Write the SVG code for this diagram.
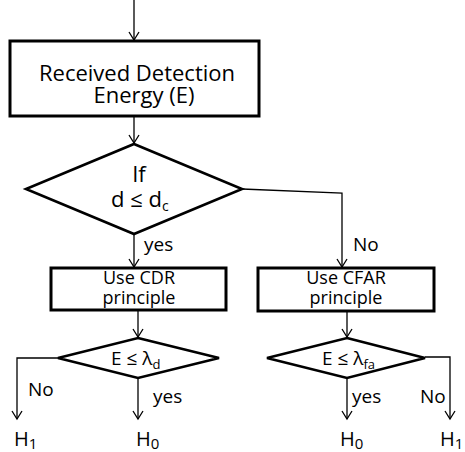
<svg xmlns="http://www.w3.org/2000/svg" width="465" height="452" viewBox="0 0 465 452">
<defs>
<style>
.box{fill:#fff;stroke:#000;stroke-width:3}
.dia{fill:#fff;stroke:#000;stroke-width:2.6;stroke-linejoin:miter}
.con{fill:none;stroke:#000;stroke-width:1.3}
text{font-family:"Open Sans","Noto Sans",sans-serif;fill:#000}
.big{font-size:22px}
.mid{font-size:18px}
.lbl{font-size:19px}
.h{font-size:20px}
</style>
<marker id="ah" markerWidth="12" markerHeight="12" viewBox="-10 -6 12 12" refX="0" refY="0" orient="auto" markerUnits="userSpaceOnUse">
<polyline points="-8,-5 0,0 -8,5" fill="none" stroke="#000" stroke-width="1.3"/>
</marker>
</defs>
<rect width="465" height="452" fill="#fff"/>
<g id="connectors">
<line class="con" x1="134" y1="0" x2="134" y2="40" marker-end="url(#ah)"/>
<line class="con" x1="134" y1="117" x2="134" y2="143" marker-end="url(#ah)"/>
<line class="con" x1="134" y1="234" x2="134" y2="267" marker-end="url(#ah)"/>
<polyline class="con" points="242,189 342,193 342,267" marker-end="url(#ah)"/>
<line class="con" x1="138" y1="311" x2="138" y2="337" marker-end="url(#ah)"/>
<line class="con" x1="347" y1="312" x2="347" y2="337" marker-end="url(#ah)"/>
<polyline class="con" points="58,358 17,358 17,419" marker-end="url(#ah)"/>
<line class="con" x1="138" y1="378" x2="138" y2="419" marker-end="url(#ah)"/>
<line class="con" x1="347" y1="378" x2="347" y2="419" marker-end="url(#ah)"/>
<polyline class="con" points="425,357 450,357 450,419" marker-end="url(#ah)"/>
<text class="lbl" x="144" y="251">yes</text>
<text class="lbl" x="353" y="251">No</text>
<text class="lbl" x="28" y="396">No</text>
<text class="lbl" x="153" y="403">yes</text>
<text class="lbl" x="352" y="403">yes</text>
<text class="lbl" x="420" y="403">No</text>
</g>
<g id="received">
<rect class="box" x="10" y="41" width="249" height="75"/>
<text class="big" x="137" y="81" text-anchor="middle">Received Detection</text>
<text class="big" x="144" y="103" text-anchor="middle">Energy (E)</text>
</g>
<g id="decision-d">
<polygon class="dia" points="134,144 242,189 134,234 26,189"/>
<text class="big" x="139" y="182" text-anchor="middle">If</text>
<text class="big" x="111" y="207">d ≤ d<tspan font-size="14" dy="4">c</tspan></text>
</g>
<g id="cdr">
<rect class="box" x="51" y="268" width="175" height="42"/>
<text class="mid" x="139" y="284" text-anchor="middle">Use CDR</text>
<text class="mid" x="139" y="304" text-anchor="middle">principle</text>
</g>
<g id="cfar">
<rect class="box" x="258" y="268" width="176" height="43"/>
<text class="mid" x="346" y="284" text-anchor="middle">Use CFAR</text>
<text class="mid" x="346" y="304" text-anchor="middle">principle</text>
</g>
<g id="decision-ld">
<polygon class="dia" points="138,338 219,358 138,378 58,358"/>
<text class="lbl" x="111" y="365">E ≤ λ<tspan font-size="13" dy="4">d</tspan></text>
</g>
<g id="decision-lfa">
<polygon class="dia" points="347,338 425,358 347,378 267,358"/>
<text class="lbl" x="322" y="365">E ≤ λ<tspan font-size="13" dy="4">fa</tspan></text>
</g>
<g id="h1-left"><text class="h" x="14" y="446">H<tspan font-size="15" dy="3">1</tspan></text></g>
<g id="h0-left"><text class="h" x="136" y="446">H<tspan font-size="15" dy="3">0</tspan></text></g>
<g id="h0-right"><text class="h" x="340" y="446">H<tspan font-size="15" dy="3">0</tspan></text></g>
<g id="h1-right"><text class="h" x="440" y="446">H<tspan font-size="15" dy="3">1</tspan></text></g>
</svg>
